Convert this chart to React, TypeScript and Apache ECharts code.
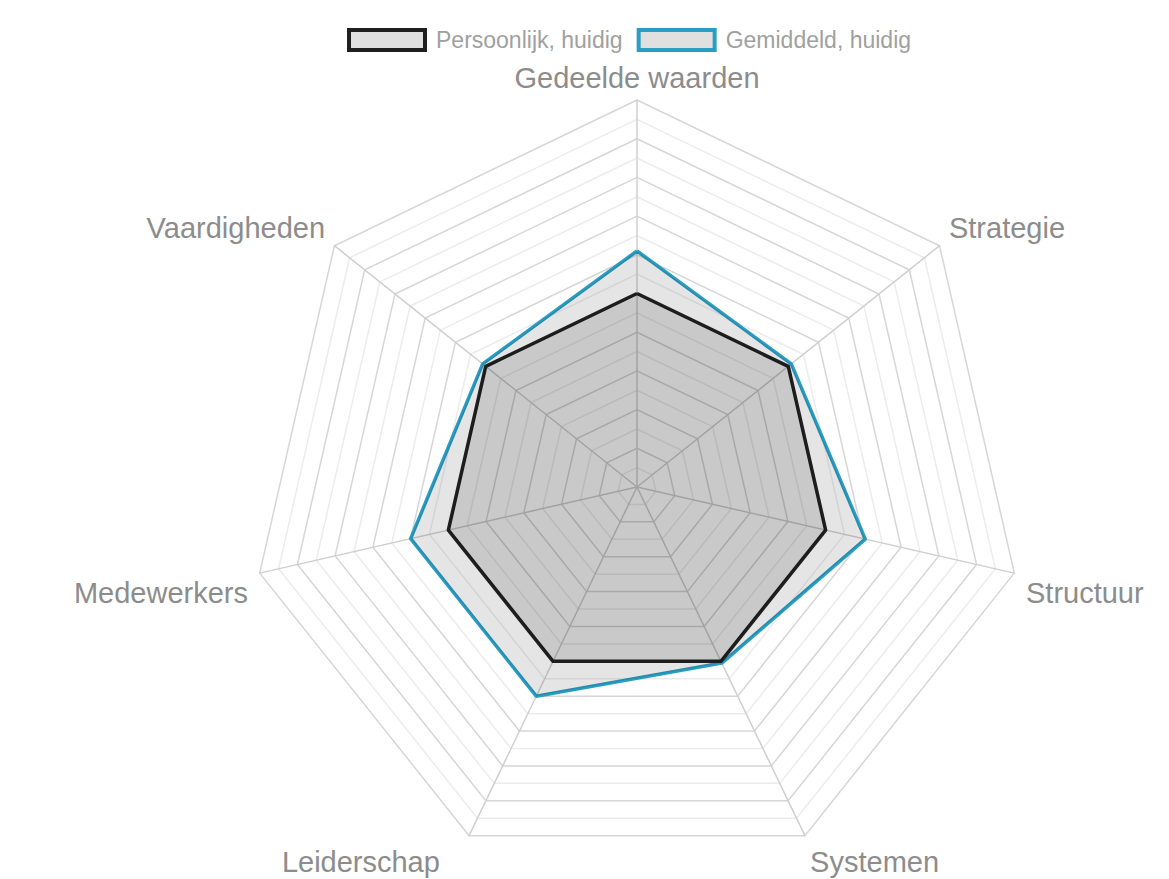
import React, { useEffect, useRef } from "react";
import * as echarts from "echarts";

// Indicators listed counter-clockwise from the top (ECharts radar order)
const indicators = [
  "Gedeelde waarden",
  "Vaardigheden",
  "Medewerkers",
  "Leiderschap",
  "Systemen",
  "Structuur",
  "Strategie",
];
const maxValue = 10;
const persoonlijk = [5.0, 5.0, 5.0, 5.0, 5.0, 5.0, 5.0];
const gemiddeld = [6.1, 5.1, 6.0, 6.0, 5.05, 6.05, 5.1];
const seriesNames = ["Persoonlijk, huidig", "Gemiddeld, huidig"];

const labelKeys: Record<string, string> = {
  "Gedeelde waarden": "ged",
  Vaardigheden: "up",
  Strategie: "up",
  Medewerkers: "mid",
  Structuur: "mid",
  Leiderschap: "lei",
  Systemen: "sys",
};

const FONT = "Liberation Sans, Arial, Helvetica, sans-serif";
const labelBase = { color: "#8c8c8c", fontSize: 29, fontFamily: FONT };

export default function App() {
  const ref = useRef<HTMLDivElement>(null);
  useEffect(() => {
    if (!ref.current) return;
    const chart = echarts.init(ref.current, undefined, { renderer: "svg" });
    chart.setOption({
      animation: false,
      backgroundColor: "#ffffff",
      legend: {
        top: 23,
        left: 342,
        itemWidth: 76,
        itemHeight: 20,
        itemGap: 14,
        icon: "rect",
        textStyle: {
          color: "#a0a0a0",
          fontSize: 23,
          fontFamily: FONT,
          padding: [0, 0, 0, 6],
        },
        data: [
          { name: seriesNames[0], itemStyle: { color: "#e0e0e0", borderColor: "#1f1f1f", borderWidth: 4 } },
          { name: seriesNames[1], itemStyle: { color: "#e0e0e0", borderColor: "#2a9dc3", borderWidth: 4 } },
        ],
      },
      radar: {
        center: [637, 487],
        radius: 387,
        startAngle: 90,
        splitNumber: 20,
        shape: "polygon",
        nameGap: 12,
        axisName: {
          ...labelBase,
          formatter: (name: string) => `{${labelKeys[name] || "mid"}|${name}}`,
          rich: {
            ged: { ...labelBase, lineHeight: 20 },
            up: { ...labelBase, padding: [0, 0, 20, 0] },
            mid: { ...labelBase, padding: [34, 0, 0, 0] },
            lei: { ...labelBase, padding: [32, 24, 0, 0] },
            sys: { ...labelBase, padding: [32, 0, 0, 0] },
          },
        },
        indicator: indicators.map((n) => ({ name: n, max: maxValue, min: 0 })),
        splitLine: { lineStyle: { color: ["#d6d6d6", "#ececec"], width: 1.5 } },
        splitArea: { show: false },
        axisLine: { lineStyle: { color: "#cfcfcf", width: 1.5 } },
        axisTick: { show: false },
        axisLabel: { show: false },
      },
      series: [
        {
          type: "radar",
          z: 2,
          symbol: "none",
          data: [
            {
              name: seriesNames[1],
              value: gemiddeld,
              lineStyle: { color: "#2a9dc3", width: 3.5 },
              itemStyle: { color: "#2a9dc3" },
              areaStyle: { color: "rgba(0,0,0,0.10)", opacity: 1 },
            },
          ],
        },
        {
          type: "radar",
          z: 3,
          symbol: "none",
          data: [
            {
              name: seriesNames[0],
              value: persoonlijk,
              lineStyle: { color: "#1f1f1f", width: 3.5 },
              itemStyle: { color: "#1f1f1f" },
              areaStyle: { color: "rgba(0,0,0,0.12)", opacity: 1 },
            },
          ],
        },
      ],
    });
    return () => chart.dispose();
  }, []);
  return (
    <div
      ref={ref}
      style={{ position: "fixed", left: 0, top: 0, width: 1169, height: 879 }}
    />
  );
}
